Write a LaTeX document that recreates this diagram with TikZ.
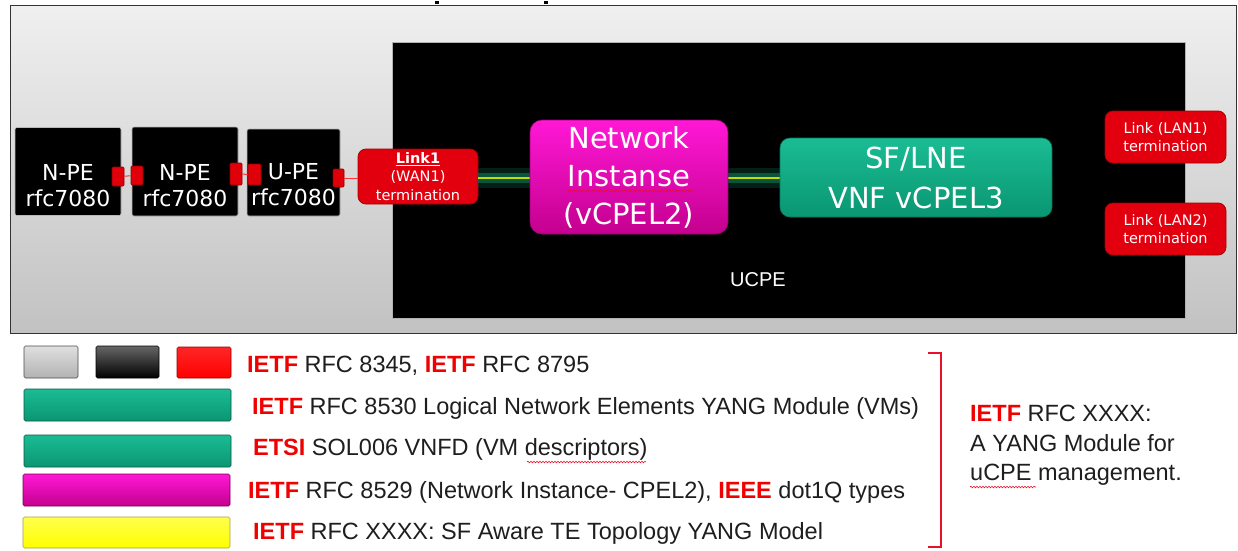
\documentclass[tikz,border=0pt]{standalone}
\usepackage{fontspec}
\setmainfont{Liberation Sans}
\newfontfamily\dv{DejaVu Sans}
\usetikzlibrary{decorations.pathmorphing}
\definecolor{nired}{HTML}{E2000F}
\definecolor{portred}{HTML}{E0000A}
\definecolor{magtop}{HTML}{FF18D6}
\definecolor{magbot}{HTML}{C4008E}
\definecolor{grntop}{HTML}{1ABC94}
\definecolor{grnbot}{HTML}{0A9672}
\definecolor{ietf}{HTML}{F00000}
\definecolor{txt}{HTML}{1E1E1E}
\definecolor{glowA}{HTML}{0B5A40}
\definecolor{glowB}{HTML}{12805C}
\definecolor{coreline}{HTML}{C6DC00}
\definecolor{brk}{HTML}{E8102A}
\tikzset{
  pebox/.style={draw=gray!55, fill=black, rounded corners=2pt, inner sep=0, line width=0.6pt},
  petext/.style={text=white, align=center, inner sep=0, font=\dv\fontsize{22}{26}\selectfont},
  port/.style={draw=red!55!black, fill=portred, inner sep=0, rounded corners=1pt, line width=0.6pt},
  portline/.style={draw=red!80!white, line width=1pt},
  termbox/.style={draw=red!65!black, fill=nired, rounded corners=8pt, text=white, align=center,
     inner sep=0, line width=0.8pt, font=\dv\fontsize{14.5}{18.5}\selectfont},
  glowA/.style={draw=glowA, line width=20pt, opacity=0.35},
  glowB/.style={draw=glowB, line width=10pt, opacity=0.55},
  core/.style={draw=coreline, line width=1.2pt},
  spell/.style={draw=brk, line width=0.6pt, decorate, decoration={snake, amplitude=0.8pt, segment length=3pt}},
  swatch/.style={draw=#1!60!black, line width=0.6pt, rounded corners=1.5pt},
  legtext/.style={anchor=west, inner sep=0, text=txt, font=\fontsize{23.5}{27}\selectfont},
}
\newcommand{\ie}[1]{{\color{ietf}\bfseries #1}}
\begin{document}
\begin{tikzpicture}[x=1pt,y=-1pt]
\useasboundingbox (0,0) rectangle (1238,550);
\fill[white] (0,0) rectangle (1238,550);
% top artifacts
\fill[black] (435,1) rectangle (439,3.5);
\fill[black] (544,1) rectangle (548,3.5);
% gray panel
\shade[top color=gray!12, bottom color=gray!48] (10,5) rectangle (1236,333);
\draw[gray!40!black, line width=1pt] (10,5) rectangle (1236,333);
% UCPE black box
\node[fill=black, draw=gray!60, line width=0.5pt, minimum width=793pt, minimum height=276pt, inner sep=0] (ucpe) at (788.5,180) {};
\node[text=white, font=\fontsize{20}{24}\selectfont, inner sep=0] (ucpelab) at (758,280) {UCPE};
% PE boxes
\node[pebox, minimum width=106pt, minimum height=88pt] (npe1) at (68,171.5) {};
\node[pebox, minimum width=106pt, minimum height=89pt] (npe2) at (185,171.5) {};
\node[pebox, minimum width=93pt, minimum height=87pt] (upe) at (293.5,172.5) {};
\node[petext] (npe1t) at (68,186) {N-PE\\rfc7080};
\node[petext] (npe2t) at (185,186) {N-PE\\rfc7080};
\node[petext] (upet) at (293.5,185) {U-PE\\rfc7080};
% ports
\node[port, minimum width=12pt, minimum height=19pt] (p1r) at (118,176.5) {};
\node[port, minimum width=12pt, minimum height=19pt] (p2l) at (137,175.5) {};
\node[port, minimum width=12pt, minimum height=22pt] (p2r) at (236,174) {};
\node[port, minimum width=13pt, minimum height=21pt] (p3l) at (254.5,174.5) {};
\node[port, minimum width=11pt, minimum height=18pt] (p3r) at (338.5,178) {};
% terminations
\node[termbox, minimum width=120pt, minimum height=55pt] (link1) at (418,176.5) {\underline{\bfseries Link1}\\(WAN1)\\termination};
\node[termbox, minimum width=121pt, minimum height=52pt] (lan1) at (1165.5,137) {Link (LAN1)\\termination};
\node[termbox, minimum width=121pt, minimum height=52pt] (lan2) at (1165.5,229) {Link (LAN2)\\termination};
% port lines
\draw[portline] (p1r) -- (p2l);
\draw[portline] (p2r) -- (p3l);
\draw[portline] (p3r.east) -- (link1.west |- p3r.east);
% glow connectors
\coordinate (g1a) at (link1.east |- 0,178);
\coordinate (g1b) at (530,178);
\coordinate (g2a) at (728,178);
\coordinate (g2b) at (780,178);
\draw[glowA] (g1a) -- (g1b);
\draw[glowB] (g1a) -- (g1b);
\draw[core] (g1a) -- (g1b);
\draw[glowA] (g2a) -- (g2b);
\draw[glowB] (g2a) -- (g2b);
\draw[core] (g2a) -- (g2b);
% Network instance
\node[top color=magtop, bottom color=magbot, draw=magbot!80!black, line width=0.6pt, rounded corners=12pt,
      minimum width=198pt, minimum height=114pt, inner sep=0, text=white, align=center,
      font=\dv\fontsize{29}{38}\selectfont] (ni) at (629,177) {Network\\Instanse\\(vCPEL2)};
% SF/LNE
\node[top color=grntop, bottom color=grnbot, draw=grnbot!80!black, line width=0.6pt, rounded corners=10pt,
      minimum width=272pt, minimum height=79pt, inner sep=0, text=white, align=center,
      font=\dv\fontsize{29}{40}\selectfont] (sf) at (916,177.5) {SF/LNE\\VNF vCPEL3};
\draw[spell] (567,191) -- (693,191);
% legend swatches
\shade[swatch=gray, top color=gray!25, bottom color=gray!60] (24,346) rectangle (78,378);
\shade[swatch=black, top color=gray!80!black, bottom color=black] (96,346) rectangle (159,378);
\shade[swatch=red, top color=red!85!white, bottom color=red] (177,347) rectangle (231,378);
\shade[swatch=grnbot, top color=grntop, bottom color=grnbot] (24,389) rectangle (231,421);
\shade[swatch=grnbot, top color=grntop, bottom color=grnbot] (24,435) rectangle (231,467);
\shade[swatch=magbot, top color=magtop, bottom color=magbot] (23,474) rectangle (230,506);
\shade[swatch=yellow, top color=yellow!70!white, bottom color=yellow] (23,517) rectangle (230,548);
% legend texts
\node[legtext] (l1) at (247,366) {\ie{IETF} RFC 8345, \ie{IETF} RFC 8795};
\node[legtext] (l2) at (252,408) {\ie{IETF} RFC 8530 Logical Network Elements YANG Module (VMs)};
\node[legtext] (l3) at (253,449) {\ie{ETSI} SOL006 VNFD (VM descriptors)};
\node[legtext] (l4) at (248,492) {\ie{IETF} RFC 8529 (Network Instance- CPEL2), \ie{IEEE} dot1Q types};
\node[legtext] (l5) at (253,533) {\ie{IETF} RFC XXXX: SF Aware TE Topology YANG Model};
\draw[spell] (527,462) -- (646,462);
% bracket
\draw[brk, line width=1.4pt] (928,353) -- (941,353) -- (941,547) -- (928,547);
% right text
\node[anchor=north west, inner sep=0, align=left, text=txt, font=\fontsize{23.5}{29.5}\selectfont] (rt) at (970,405)
  {\ie{IETF} RFC XXXX:\\A YANG Module for\\uCPE management.};
\draw[spell] (970,487) -- (1036,487);
\end{tikzpicture}
\end{document}
